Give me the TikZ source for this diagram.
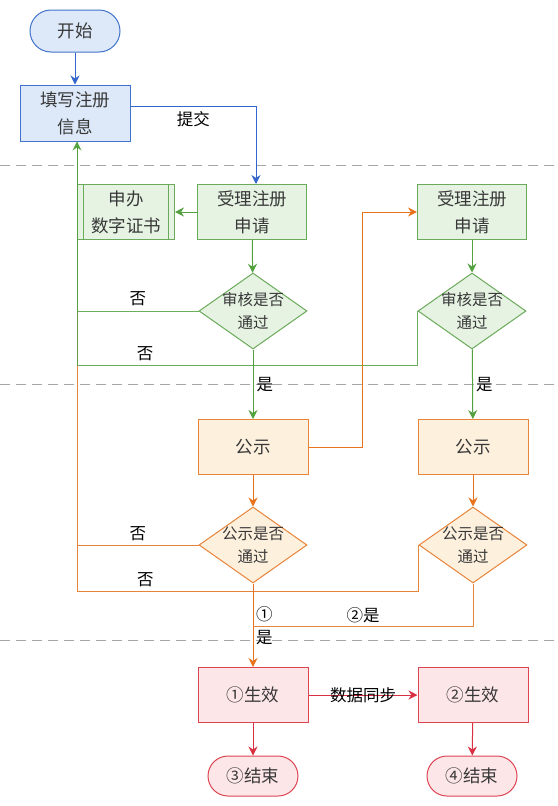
\documentclass[tikz,border=0pt]{standalone}
\usepackage{fontspec}
\setmainfont{Noto Sans CJK SC}
\usetikzlibrary{shapes.geometric, arrows.meta, positioning, calc}
\definecolor{txt}{HTML}{383838}
\definecolor{bline}{HTML}{4274CC}
\definecolor{bfill}{HTML}{DDE9F8}
\definecolor{barrow}{HTML}{3366CC}
\definecolor{gline}{HTML}{6AAA5A}
\definecolor{gfill}{HTML}{E6F3E3}
\definecolor{garrow}{HTML}{52A03E}
\definecolor{oline}{HTML}{E8843A}
\definecolor{ofill}{HTML}{FDF0DD}
\definecolor{oarrow}{HTML}{E8731E}
\definecolor{rline}{HTML}{DC4452}
\definecolor{rfill}{HTML}{FDE6E8}
\definecolor{rarrow}{HTML}{D83040}

\begin{document}
\begin{tikzpicture}[x=1pt, y=-1pt,
    box/.style={rectangle, draw, line width=1pt, minimum width=110pt, minimum height=55pt,
        align=center, text=txt, inner sep=0pt, font=\fontsize{17.5}{27}\selectfont},
    term/.style={box, minimum width=90pt, minimum height=42pt, rounded corners=21pt},
    decide/.style={diamond, draw, line width=1pt, aspect=1.42, minimum width=108pt,
        minimum height=76pt, align=center, text=txt, inner sep=-5pt, font=\fontsize{15.5}{23}\selectfont},
    subproc/.style={path picture={
        \draw ([xshift=6pt]path picture bounding box.north west) -- ([xshift=6pt]path picture bounding box.south west);
        \draw ([xshift=-6pt]path picture bounding box.north east) -- ([xshift=-6pt]path picture bounding box.south east);}},
    bluebox/.style={draw=bline, fill=bfill},
    greenbox/.style={draw=gline, fill=gfill},
    orangebox/.style={draw=oline, fill=ofill},
    redbox/.style={draw=rline, fill=rfill},
    flow/.style={line width=1pt, -{Stealth[length=9pt, width=9pt, inset=3pt]}},
    link/.style={line width=1pt},
    lbl/.style={font=\fontsize{16.5}{18}\selectfont, text=black, inner sep=1pt},
    lane/.style={draw=gray!70, line width=1pt, dash pattern=on 10pt off 6pt}
]
\useasboundingbox (0,0) rectangle (557,806);

\draw[lane] (0,165) -- (557,165);
\draw[lane] (0,384) -- (557,384);
\draw[lane] (0,640) -- (557,640);

\node[term, bluebox] (start) at (75,31) {开始};
\node[box, bluebox, minimum height=56pt] (fill) at (75,113) {填写注册\\信息};
\node[box, greenbox, minimum width=109pt] (acc1) at (252,212) {受理注册\\申请};
\node[box, greenbox, subproc, minimum width=97pt] (cert) at (126,212) {申办\\数字证书};
\node[decide, greenbox] (chk1) at (253,311) {审核是否\\通过};
\node[box, greenbox, minimum width=109pt] (acc2) at (472,212) {受理注册\\申请};
\node[decide, greenbox] (chk2) at (472,311) {审核是否\\通过};
\node[box, orangebox] (pub1) at (253,447) {公示};
\node[box, orangebox] (pub2) at (473,447) {公示};
\node[decide, orangebox] (pchk1) at (253,545) {公示是否\\通过};
\node[decide, orangebox] (pchk2) at (473,545) {公示是否\\通过};
\node[box, redbox] (eff1) at (253,695) {①生效};
\node[box, redbox] (eff2) at (473,695) {②生效};
\node[term, redbox, minimum height=40pt, rounded corners=20pt] (end1) at (253,776) {③结束};
\node[term, redbox, minimum height=40pt, rounded corners=20pt] (end2) at (472,776) {④结束};
\coordinate (join) at (253,626);

\draw[flow, barrow] (start) -- (fill);
\draw[flow, barrow] ([yshift=7pt]fill.east) -| ([xshift=4pt]acc1.north)
    node[lbl, pos=0.25, below=4pt] {提交};
\draw[flow, garrow] (acc1) -- (cert);
\draw[flow, garrow] (acc1) -- (chk1);
\draw[flow, garrow] (acc2) -- (chk2);

% back to the form
\draw[link, oline] (pchk2.west) -- ++(0,46) -| ([xshift=2pt]fill.south)
    node[lbl, pos=0.4, above=3pt] {否};
\draw[link, oline] (pchk1.west) -| ([xshift=2pt]fill.south)
    node[lbl, pos=0.25, above=3pt] {否};
\draw[link, garrow, draw opacity=0.85] (chk2.west) -- ++(0,54) -| ([xshift=2pt]fill.south)
    node[lbl, pos=0.4, above=3pt] {否};
\draw[flow, garrow, draw opacity=0.85] (chk1.west) -| ([xshift=2pt]fill.south)
    node[lbl, pos=0.25, above=4pt] {否};

\draw[flow, garrow] (chk1) -- (pub1) node[lbl, midway, right=2pt] {是};
\draw[flow, garrow] (chk2) -- (pub2) node[lbl, midway, right=2pt] {是};
\draw[flow, oarrow] (pub1.east) -- ++(54,0) |- (acc2.west);
\draw[flow, oarrow] (pub1) -- (pchk1);
\draw[flow, oarrow] (pub2) -- (pchk2);
\draw[flow, oarrow] (pchk1) -- (eff1);
\node[lbl, anchor=west] (yes1a) at (255,614) {①};
\node[lbl, anchor=west] (yes1b) at (255,638) {是};
\draw[link, oline] (pchk2.south) |- (join) node[lbl, pos=0.75, above=2pt] {②是};

\draw[flow, rarrow] (eff1) -- (eff2) node[lbl, midway] {数据同步};
\draw[flow, rarrow] (eff1) -- (end1);
\draw[flow, rarrow] (eff2) -- (end2);
\end{tikzpicture}
\end{document}
